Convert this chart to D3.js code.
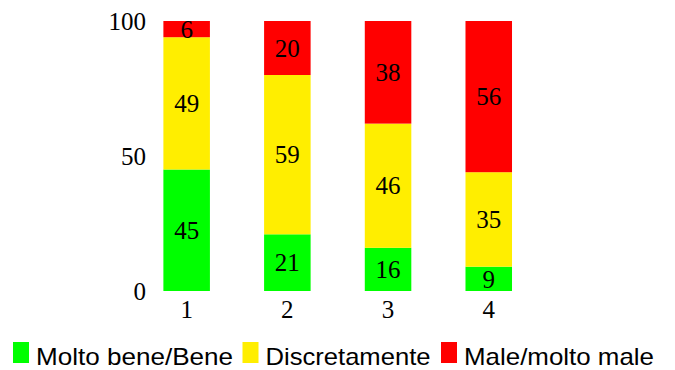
<!DOCTYPE html>
<html>
<head>
<meta charset="utf-8">
<script src="https://cdn.jsdelivr.net/npm/d3@7/dist/d3.min.js"></script>
<style>
  html, body { margin: 0; padding: 0; background: #fff; }
  svg { display: block; }
</style>
</head>
<body>
<svg id="chart" width="675" height="370"></svg>
<script>
const categories = ["1", "2", "3", "4"];
const seriesNames = ["Molto bene/Bene", "Discretamente", "Male/molto male"];
const bene = [45, 21, 16, 9];
const discretamente = [49, 59, 46, 35];
const male = [6, 20, 38, 56];
const yTicks = [0, 50, 100];
const colors = ["#00ff00", "#ffee00", "#ff0000"];

const svg = d3.select("#chart");

const rows = categories.map((c, i) => ({
  cat: c,
  "Molto bene/Bene": bene[i],
  "Discretamente": discretamente[i],
  "Male/molto male": male[i]
}));
const stacked = d3.stack().keys(seriesNames)(rows);

const x = d3.scaleBand().domain(categories).range([136.3, 539.1])
  .paddingInner(0.538).paddingOuter(0.269);
const y = d3.scaleLinear().domain([0, 100]).range([291, 21]);
const color = d3.scaleOrdinal().domain(seriesNames).range(colors);

// bars
const g = svg.append("g");
stacked.forEach(layer => {
  g.selectAll(null).data(layer).enter().append("rect")
    .attr("x", d => x(d.data.cat))
    .attr("width", x.bandwidth())
    .attr("y", d => y(d[1]))
    .attr("height", d => y(d[0]) - y(d[1]))
    .attr("fill", color(layer.key));
  g.selectAll(null).data(layer).enter().append("text")
    .attr("x", d => x(d.data.cat) + x.bandwidth() / 2)
    .attr("y", d => y((d[0] + d[1]) / 2))
    .attr("dy", "0.35em")
    .attr("text-anchor", "middle")
    .attr("font-family", "Liberation Serif, Times New Roman, serif")
    .attr("font-size", 25)
    .attr("fill", "#000")
    .text(d => d.data[layer.key]);
});

// y axis (labels only)
const yAxis = d3.axisLeft(y).tickValues(yTicks).tickSize(0).tickPadding(0);
const yg = svg.append("g").attr("transform", "translate(146,0)").call(yAxis);
yg.select(".domain").remove();
yg.selectAll("text")
  .attr("font-family", "Liberation Serif, Times New Roman, serif")
  .attr("font-size", 25)
  .attr("fill", "#000");

// x axis (labels only)
const xAxis = d3.axisBottom(x).tickSize(0).tickPadding(0);
const xg = svg.append("g").attr("transform", "translate(0,300)").call(xAxis);
xg.select(".domain").remove();
xg.selectAll("text")
  .attr("dy", "0.72em")
  .attr("font-family", "Liberation Serif, Times New Roman, serif")
  .attr("font-size", 25)
  .attr("fill", "#000");

// legend
const legendX = [13, 242.5, 441];
const legendTextLen = [197, 165, 190];
const lg = svg.append("g");
seriesNames.forEach((name, i) => {
  lg.append("rect")
    .attr("x", legendX[i]).attr("y", 342)
    .attr("width", 16).attr("height", 21)
    .attr("fill", colors[i]);
  lg.append("text")
    .attr("x", legendX[i] + 23).attr("y", 365)
    .attr("font-family", "Liberation Sans, Arial, sans-serif")
    .attr("font-size", 24)
    .attr("textLength", legendTextLen[i])
    .attr("lengthAdjust", "spacingAndGlyphs")
    .attr("fill", "#000")
    .text(name);
});
</script>
</body>
</html>
